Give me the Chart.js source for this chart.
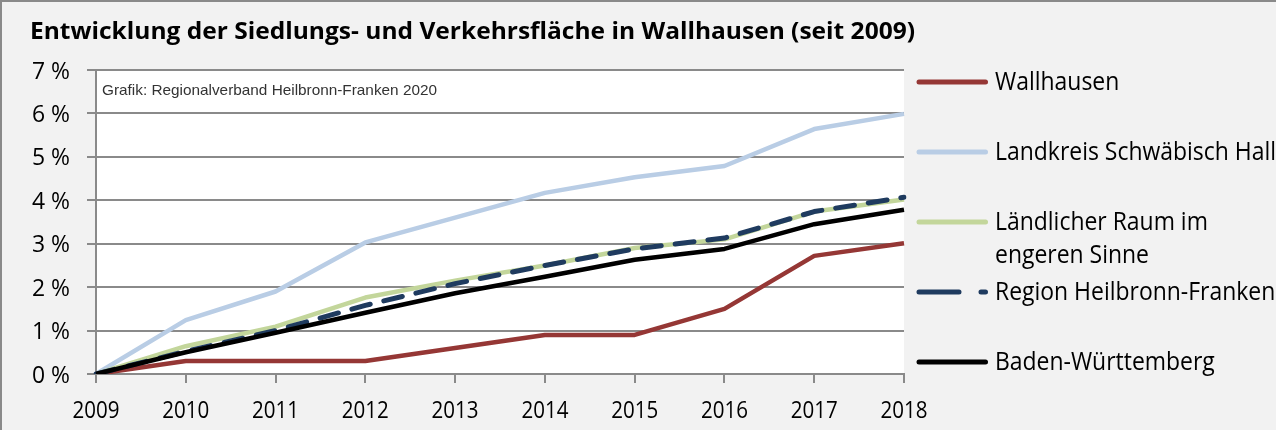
<!DOCTYPE html>
<html><head><meta charset="utf-8">
<script src="https://cdn.jsdelivr.net/npm/chart.js@4"></script>
<style>
html,body{margin:0;padding:0;background:#f2f2f2;}
#wrap{position:absolute;left:0;top:0;width:1276px;height:430px;box-sizing:border-box;border-left:2px solid #8a8a8a;border-top:2px solid #8a8a8a;}
canvas{position:absolute;left:0;top:0;}
</style></head><body>
<div id="wrap"></div>
<canvas id="c" width="1276" height="430"></canvas>
<script>
const title = 'Entwicklung der Siedlungs- und Verkehrsfläche in Wallhausen (seit 2009)';
const source = 'Grafik: Regionalverband Heilbronn-Franken 2020';
const years = ['2009','2010','2011','2012','2013','2014','2015','2016','2017','2018'];
const wallhausen = [0, 0.3, 0.3, 0.3, 0.6, 0.9, 0.9, 1.5, 2.72, 3.01];
const landkreis = [0, 1.24, 1.9, 3.03, 3.6, 4.17, 4.53, 4.79, 5.64, 5.99];
const laendlich = [0, 0.64, 1.09, 1.76, 2.15, 2.5, 2.9, 3.1, 3.74, 4.02];
const region = [0, 0.52, 1.0, 1.58, 2.08, 2.5, 2.88, 3.13, 3.74, 4.07];
const bw = [0, 0.5, 0.95, 1.41, 1.86, 2.24, 2.63, 2.88, 3.45, 3.78];
const yTicks = [0,1,2,3,4,5,6,7];
const yTickLabels = ['0 %','1 %','2 %','3 %','4 %','5 %','6 %','7 %'];

const FONT = '"Open Sans", "Noto Sans", sans-serif';
const series = [
  {label:['Wallhausen'], data:wallhausen, color:'#953735', dash:[], width:4.5, order:3, base:[90], lineY:82},
  {label:['Landkreis Schwäbisch Hall'], data:landkreis, color:'#b9cde5', dash:[], width:4.5, order:4, base:[160], lineY:152},
  {label:['Ländlicher Raum im','engeren Sinne'], data:laendlich, color:'#c3d69b', dash:[], width:4.5, order:2, base:[230,263], lineY:222},
  {label:['Region Heilbronn-Franken'], data:region, color:'#1f3b5f', dash:[19,14], width:5, order:1, base:[300], lineY:292},
  {label:['Baden-Württemberg'], data:bw, color:'#000000', dash:[], width:4.5, order:0, base:[370], lineY:362}
];

function drawText(ctx, text, x, y, sx, align){
  const w = ctx.measureText(text).width * sx;
  let left = x;
  if (align === 'right') left = x - w;
  else if (align === 'center') left = x - w/2;
  ctx.save();
  ctx.translate(left, y);
  ctx.scale(sx, 1);
  ctx.textAlign = 'left';
  ctx.fillText(text, 0, 0);
  ctx.restore();
}

const decor = {
  id:'decor',
  beforeDraw(chart){
    const {ctx, chartArea:a} = chart;
    ctx.save();
    ctx.fillStyle = '#ffffff';
    ctx.fillRect(a.left, a.top, a.right - a.left, a.bottom - a.top);
    ctx.restore();
  },
  afterDraw(chart){
    const {ctx, chartArea:a} = chart;
    ctx.save();
    ctx.textBaseline = 'alphabetic';
    ctx.fillStyle = '#000';
    ctx.font = 'bold 24px ' + FONT;
    drawText(ctx, title, 30, 39, 885 / ctx.measureText(title).width, 'left');
    ctx.font = '15px "Liberation Sans", Arial, sans-serif';
    ctx.fillStyle = '#333';
    drawText(ctx, source, a.left + 6, a.top + 25, 335 / ctx.measureText(source).width, 'left');
    ctx.fillStyle = '#000';
    ctx.font = '24px ' + FONT;
    const xs = chart.scales.x, ys = chart.scales.y;
    const sxX = 47 / ctx.measureText('2009').width;
    years.forEach((t, i) => drawText(ctx, t, xs.getPixelForValue(i), 418, sxX, 'center'));
    const sxY = 38 / ctx.measureText('7 %').width;
    yTicks.forEach((v, i) => drawText(ctx, yTickLabels[i], 70, ys.getPixelForValue(v) + 8.5, sxY, 'right'));
    ctx.font = '25px ' + FONT;
    const sxL = 281 / ctx.measureText('Landkreis Schwäbisch Hall').width;
    series.forEach(s => {
      ctx.strokeStyle = s.color;
      ctx.lineWidth = 5;
      ctx.lineCap = 'round';
      ctx.setLineDash(s.dash.length ? [40, 22] : []);
      ctx.beginPath();
      ctx.moveTo(919, s.lineY);
      ctx.lineTo(985.5, s.lineY);
      ctx.stroke();
      ctx.setLineDash([]);
      ctx.fillStyle = '#000';
      s.label.forEach((t, i) => drawText(ctx, t, 995, s.base[i], sxL, 'left'));
    });
    ctx.restore();
  }
};

new Chart(document.getElementById('c'), {
  type:'line',
  data:{
    labels: years,
    datasets: series.map(s => ({
      label: s.label.join(' '), data: s.data, borderColor: s.color, backgroundColor: s.color,
      borderWidth: s.width, borderDash: s.dash, pointRadius: 0, order: s.order,
      tension: 0, borderCapStyle: s.dash.length ? 'round' : 'butt', borderJoinStyle:'round'
    }))
  },
  options:{
    responsive:false, animation:false, devicePixelRatio:1,
    layout:{padding:{left:0, top:70, right:372, bottom:0}},
    plugins:{legend:{display:false}, title:{display:false}, tooltip:{enabled:false}},
    scales:{
      x:{
        offset:false,
        grid:{drawOnChartArea:false, drawTicks:true, tickLength:9, color:'#8a8a8a', lineWidth:2},
        border:{display:true, color:'#8a8a8a', width:2},
        ticks:{display:false, autoSkip:false},
        afterFit(s){ s.height = 56; }
      },
      y:{
        min:0, max:7,
        afterBuildTicks(s){ s.ticks = yTicks.map(v => ({value:v})); },
        grid:{color:'#8a8a8a', lineWidth:2, tickLength:9},
        border:{display:true, color:'#8a8a8a', width:2},
        ticks:{display:false},
        afterFit(s){ s.width = 96; }
      }
    }
  },
  plugins:[decor]
});
</script>
</body></html>
